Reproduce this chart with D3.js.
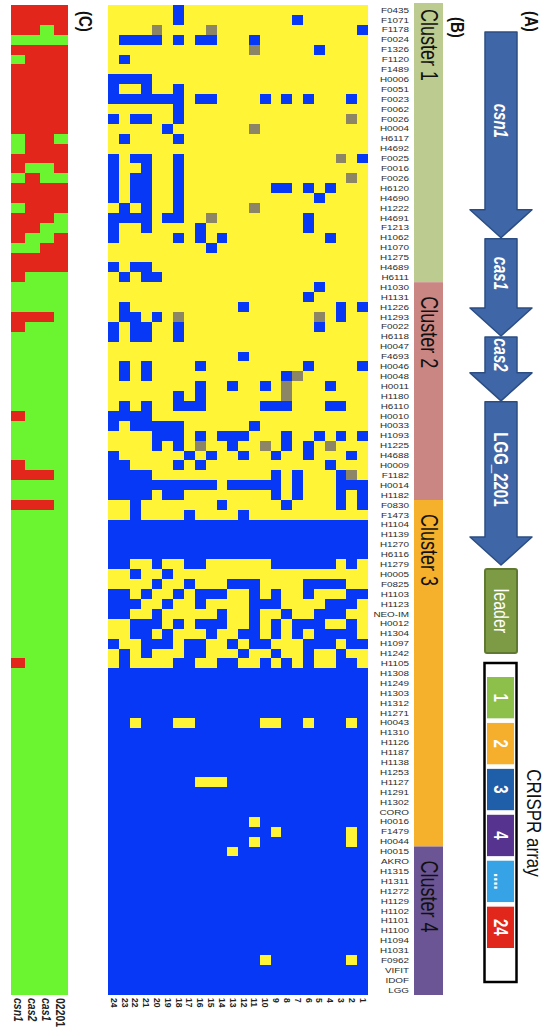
<!DOCTYPE html>
<html>
<head>
<meta charset="utf-8">
<script src="https://cdn.jsdelivr.net/npm/d3@7"></script>
<style>
  body { margin: 0; background: #fff; }
  svg { display: block; font-family: "Liberation Sans", Arial, sans-serif; }
</style>
</head>
<body>
<svg id="fig" width="549" height="1036"></svg>
<script>
// spacer columns, left to right
const spacers = d3.range(24, 0, -1);

// strains, top to bottom
const strains = [
  'F0435', 'F1071', 'F1178', 'F0024', 'F1326', 'F1120', 'F1489', 'H0006', 'F0051', 'F0023',
  'F0062', 'F0026', 'H0004', 'H6117', 'H4692', 'F0025', 'F0016', 'F0026', 'H6120', 'H4690',
  'H1222', 'H4691', 'F1213', 'H1062', 'H1070', 'H1275', 'H4689', 'H6111', 'H1030', 'H1131',
  'H1226', 'H1293', 'F0022', 'H6118', 'H0047', 'F4693', 'H0046', 'H0048', 'H0011', 'H1180',
  'H6110', 'H0010', 'H0033', 'H1093', 'H1225', 'H4688', 'H0009', 'F1182', 'H0014', 'H1182',
  'F0830', 'F1473', 'H1104', 'H1139', 'H1270', 'H6116', 'H1279', 'H0005', 'F0825', 'H1103',
  'H1123', 'NEO-IM', 'H0012', 'H1304', 'H1097', 'H1242', 'H1105', 'H1308', 'H1249', 'H1303',
  'H1312', 'H1271', 'H0043', 'H1310', 'H1126', 'H1187', 'H1138', 'H1253', 'H1127', 'H1291',
  'H1302', 'CORO', 'H0016', 'F1479', 'H0044', 'H0015', 'AKRO', 'H1315', 'H1311', 'H1272',
  'H1129', 'H1102', 'H1101', 'H1100', 'H1094', 'H1031', 'F0962', 'VIFIT', 'IDOF', 'LGG'
];

// spacer presence per strain: 1 present, 0 absent, 2 partial (columns 24 -> 1)
const spacerRows = [
  '111111011111111111111111', '111111011111111110111111', '111121111211111111111110',
  '100001010011101111111111', '111111111111121111101111', '101111111111111111111111',
  '111111111111111111111111', '000011111111111111111111', '011011011111111111111111',
  '000000010011110101011101', '111111011111111111111111', '010011011111111111111121',
  '111110111111121111111111', '101111011111111111111111', '111111111111111111111111',
  '010011011111111111111210', '011011011111111111111111', '010011011111111111111121',
  '010011011111111001010111', '010011011111111111101111', '101011011111121111111111',
  '000010011211111111011111', '011011110111111111011111', '011111010101111111110111',
  '111111111011111111111111', '111111111111111111111111', '010011111111111111111111',
  '101001111111111111111111', '111111111111111111101111', '111111111111111111011111',
  '101111111111011111111010', '100101211111111111121011', '010011011111111111101111',
  '010011011111111111111111', '111111111111111111111111', '111111111111011111111111',
  '101011110111111111011110', '101011111111111102111111', '111111110110110121110111',
  '111111010111111121111111', '101011000111110001110011', '000011111111111111111111',
  '010000011111101111111111', '111100010100011101101010', '111101012110112101012111',
  '011111101011011011011101', '001111010111111111110111', '000011111111111010111021',
  '000000000010000010111000', '000010011111111010111010', '110111111101111101111010',
  '110111101111011111111111', '000000000000000000000000', '000000000000000000000000',
  '000000000000000000000000', '000000000000000000000000', '001101100111111000000101',
  '110110111111111111111111', '111101101110001111000011', '001011010001101011011100',
  '000110110111100011110001', '001101111101101101100011', '110001010001101010001101',
  '110010111011001010100001', '011000100110100111000100', '101011100111011011011011',
  '101111001100110101011001', '000000000000000000000000', '000000000000000000000000',
  '000000000000000000000000', '000000000000000000000000', '000000000000000000000000',
  '001000110000001100100010', '000000000000000000000000', '000000000000000000000000',
  '000000000000000000000000', '000000000000000000000000', '000000000000000000000000',
  '000000001110000000000000', '000000000000000000000000', '000000000000000000000000',
  '000000000000000000000000', '000000000000010000000000', '000000000000000100000010',
  '000000000000010000000010', '000000000001000000000000', '000000000000000000000000',
  '000000000000000000000000', '000000000000000000000000', '000000000000000000000000',
  '000000000000000000000000', '000000000000000000000000', '000000000000000000000000',
  '000000000000000000000000', '000000000000000000000000', '000000000000000000000000',
  '000000000000001000000010', '000000000000000000000000', '000000000000000000000000',
  '000000000000000000000000'
];

// cas genes (panel C): R absent, G present; order csn1, cas2, cas1, 02201
const casGenes = ['csn1', 'cas2', 'cas1', '02201'];
const casRows = [
  'RRRR', 'RRRR', 'RRGR', 'GGGG', 'RRRR', 'GRRR', 'RRRR', 'RRRR', 'RRRR', 'RRRR',
  'RRRR', 'RRRR', 'RRRR', 'GRRG', 'GRRR', 'RRRR', 'RGGR', 'GRGG', 'RRRR', 'RRRR',
  'GRRR', 'RRRG', 'RRGG', 'RGGR', 'GGRR', 'RRRR', 'RRRR', 'RGGG', 'GGGG', 'GGGG',
  'GGGG', 'RRRG', 'RGGG', 'GGGG', 'GGGG', 'GGGG', 'GGGG', 'GGGG', 'GGGG', 'GGGG',
  'GGGG', 'RGGG', 'GGGG', 'GGGG', 'GGGG', 'GGGG', 'RGGG', 'RRRG', 'GGGG', 'GGGG',
  'RRRG', 'GGGG', 'GGGG', 'GGGG', 'GGGG', 'GGGG', 'GGGG', 'GGGG', 'GGGG', 'GGGG',
  'GGGG', 'GGGG', 'GGGG', 'GGGG', 'GGGG', 'GGGG', 'RGGG', 'GGGG', 'GGGG', 'GGGG',
  'GGGG', 'GGGG', 'GGGG', 'GGGG', 'GGGG', 'GGGG', 'GGGG', 'GGGG', 'GGGG', 'GGGG',
  'GGGG', 'GGGG', 'GGGG', 'GGGG', 'GGGG', 'GGGG', 'GGGG', 'GGGG', 'GGGG', 'GGGG',
  'GGGG', 'GGGG', 'GGGG', 'GGGG', 'GGGG', 'GGGG', 'GGGG', 'GGGG', 'GGGG', 'GGGG'
];

// clusters (panel B)
const clusterNames = ['Cluster 1', 'Cluster 2', 'Cluster 3', 'Cluster 4'];
const clusterSizes = [28, 22, 35, 15];
const clusterColors = ['#bccb8f', '#c98683', '#f5b02c', '#6b5594'];

// locus (panel A)
const locusGenes = ['csn1', 'cas1', 'cas2', 'LGG_2201'];
const locusItalic = [true, true, true, false];
const locusSpan = [203, 97, 64, 162];
const arraySegments = ['1', '2', '3', '4', '....', '24'];
const arrayColors = ['#8cc04b', '#f6ae2d', '#1f5ea9', '#55338f', '#35a3e5', '#e1261c'];

const stateColor = {'1': '#fff435', '0': '#0638f6', '2': '#8c8566'};
const casColor = {'R': '#e2261b', 'G': '#6af530'};

const svg = d3.select('#fig');

// ---- heatmap
const x = d3.scaleBand().domain(spacers).range([108.3, 368]);
const y = d3.scaleBand().domain(d3.range(strains.length)).range([5, 995]);

const cells = [];
spacerRows.forEach((row, i) => {
  spacers.forEach((s, j) => cells.push({row: i, spacer: s, v: row[j]}));
});

svg.append('g').attr('shape-rendering', 'crispEdges')
    .selectAll('rect').data(cells).enter().append('rect')
    .attr('x', (d) => x(d.spacer))
    .attr('y', (d) => y(d.row))
    .attr('width', x.bandwidth() + 0.4)
    .attr('height', y.bandwidth() + 0.4)
    .attr('fill', (d) => stateColor[d.v]);

// strain labels
svg.append('g').selectAll('text').data(strains).enter().append('text')
    .attr('transform', (d, i) => `translate(409,${y(i) + y.bandwidth() / 2}) scale(1.3,1)`)
    .attr('text-anchor', 'end')
    .attr('dy', '0.35em')
    .attr('font-size', 7.6)
    .attr('fill', '#2a2a2a')
    .text((d) => d);

// spacer labels
svg.append('g').selectAll('text').data(spacers).enter().append('text')
    .attr('transform', (d) => `translate(${x(d) + x.bandwidth() / 2},998) rotate(90)`)
    .attr('dy', '0.35em')
    .attr('font-size', 8.5)
    .attr('font-weight', 'bold')
    .attr('fill', '#222')
    .text((d) => d);

// ---- panel C
const xc = d3.scaleBand().domain(casGenes).range([11, 68]);
const casCells = [];
casRows.forEach((row, i) => {
  casGenes.forEach((g, j) => casCells.push({row: i, gene: g, v: row[j]}));
});
svg.append('g').attr('shape-rendering', 'crispEdges')
    .selectAll('rect').data(casCells).enter().append('rect')
    .attr('x', (d) => xc(d.gene))
    .attr('y', (d) => y(d.row))
    .attr('width', xc.bandwidth() + 0.4)
    .attr('height', y.bandwidth() + 0.4)
    .attr('fill', (d) => casColor[d.v]);

svg.append('g').selectAll('text').data(casGenes).enter().append('text')
    .attr('transform', (d) => `translate(${xc(d) + xc.bandwidth() / 2},998) rotate(90) scale(1,1.25)`)
    .attr('dy', '0.35em')
    .attr('font-size', 10.5)
    .attr('font-weight', 'bold')
    .attr('font-style', (d, i) => (i < 3 ? 'italic' : 'normal'))
    .attr('fill', '#222')
    .text((d) => d);

// ---- panel B clusters
const clusterStart = d3.cumsum([0].concat(clusterSizes));
const cg = svg.append('g');
clusterNames.forEach((name, i) => {
  const top = y(clusterStart[i]);
  const bottom = y(clusterStart[i + 1] - 1) + y.bandwidth();
  cg.append('rect')
      .attr('x', 414).attr('y', i === 0 ? 3 : top)
      .attr('width', 29).attr('height', bottom - (i === 0 ? 3 : top))
      .attr('fill', clusterColors[i]);
  cg.append('text')
      .attr('transform', `translate(429,${top + (i === 0 ? 4 : 14)}) rotate(90) scale(1,1.3)`)
      .attr('dy', '0.35em')
      .attr('font-size', 18)
      .attr('fill', '#111')
      .text(name);
});

// ---- panel A locus arrows
const ys = d3.scaleLinear().domain([0, d3.sum(locusSpan)]).range([32, 565]);
const locusStart = d3.cumsum([0].concat(locusSpan));
const cx = 501;
const head = 28;
const ag = svg.append('g');
locusGenes.forEach((g, i) => {
  const t = ys(locusStart[i]) + (i ? 1 : 0);
  const b = ys(locusStart[i + 1]);
  const pts = [
    [cx - 16, t], [cx + 16, t], [cx + 16, b - head], [cx + 31, b - head],
    [cx, b], [cx - 31, b - head], [cx - 16, b - head]
  ];
  ag.append('path')
      .attr('d', d3.line()(pts) + 'Z')
      .attr('fill', '#3f67a7')
      .attr('stroke', '#2c4d82')
      .attr('stroke-width', 1.5)
      .attr('stroke-linejoin', 'round');
  ag.append('text')
      .attr('transform', `translate(${cx},${(t + b - head) / 2}) rotate(90) scale(1,1.3)`)
      .attr('text-anchor', 'middle')
      .attr('dy', '0.35em')
      .attr('font-size', 15)
      .attr('font-weight', 'bold')
      .attr('font-style', locusItalic[i] ? 'italic' : 'normal')
      .attr('fill', '#fff')
      .text(g);
});

// leader
ag.append('rect')
    .attr('x', 485).attr('y', 569).attr('width', 32).attr('height', 84)
    .attr('rx', 2)
    .attr('fill', '#7d9a45').attr('stroke', '#5f7a30').attr('stroke-width', 2);
ag.append('text')
    .attr('transform', 'translate(501,611) rotate(90) scale(1,1.3)')
    .attr('text-anchor', 'middle').attr('dy', '0.35em')
    .attr('font-size', 16).attr('fill', '#fff')
    .text('leader');

// CRISPR array
const ya = d3.scaleBand().domain(arraySegments).range([677, 948]).paddingInner(0.1);
ag.append('rect')
    .attr('x', 484.5).attr('y', 663).attr('width', 32).attr('height', 319)
    .attr('fill', '#fff').attr('stroke', '#000').attr('stroke-width', 2.5);
ag.selectAll('.seg').data(arraySegments).enter().append('rect')
    .attr('class', 'seg')
    .attr('x', 487).attr('y', (d) => ya(d))
    .attr('width', 27).attr('height', ya.bandwidth())
    .attr('fill', (d, i) => arrayColors[i]);
ag.selectAll('.segt').data(arraySegments).enter().append('text')
    .attr('class', 'segt')
    .attr('transform', (d) => `translate(500.5,${ya(d) + ya.bandwidth() / 2}) rotate(90) scale(1,1.3)`)
    .attr('text-anchor', 'middle').attr('dy', '0.35em')
    .attr('font-size', 15).attr('font-weight', 'bold').attr('fill', '#fff')
    .text((d) => d);
ag.append('text')
    .attr('transform', 'translate(534,823) rotate(90) scale(1,1.15)')
    .attr('text-anchor', 'middle').attr('dy', '0.35em')
    .attr('font-size', 17).attr('fill', '#111')
    .text('CRISPR array');

// panel letters
const letters = [['(A)', 531, 11], ['(B)', 457, 17], ['(C)', 85, 11]];
svg.append('g').selectAll('text').data(letters).enter().append('text')
    .attr('transform', (d) => `translate(${d[1]},${d[2]}) rotate(90) scale(1,1.2)`)
    .attr('dy', '0.35em')
    .attr('font-size', 15).attr('font-weight', 'bold').attr('fill', '#111')
    .text((d) => d[0]);
</script>
</body>
</html>
